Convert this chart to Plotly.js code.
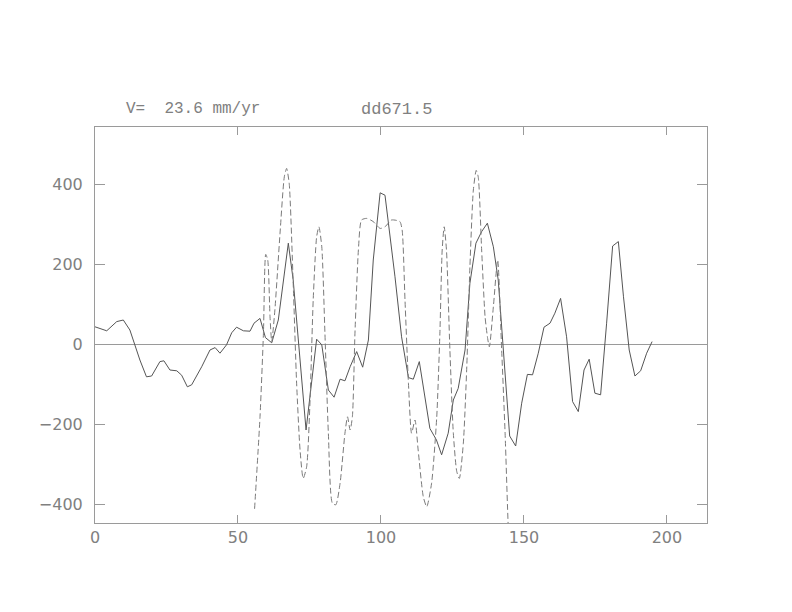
<!DOCTYPE html>
<html>
<head>
<meta charset="utf-8">
<script src="https://cdn.plot.ly/plotly-3.0.1.min.js"></script>
<style>html,body{margin:0;padding:0;background:#fff;}#chart{width:792px;height:612px;}</style>
</head>
<body>
<div id="chart"></div>
<script>
// Observed (solid) profile
const obsX = [0, 4.1, 7.6, 9.9, 12.2, 15.7, 18, 19.8, 22.7, 24.1, 26.2, 28.6, 30.3, 32.3, 33.8, 37.3, 40.2, 42, 43.7, 46, 47.8, 49.5, 51.9, 54.2, 55.6, 57.7, 59.6, 61.8, 64.1, 67.6, 69.3, 73.8, 77.5, 79.3, 81.6, 83.6, 85.7, 87.4, 89.2, 91.5, 93.6, 95.6, 97.3, 99.7, 101.4, 102.6, 104.9, 107.2, 109.6, 111.3, 113.4, 117.1, 119.4, 121.2, 123.5, 125.3, 127, 129.4, 131.1, 133.2, 135.2, 137.2, 139.3, 141, 142.8, 145, 147.1, 149.2, 151.2, 153, 155, 157, 159.1, 160.8, 162.8, 164.9, 167, 169, 171, 172.8, 174.8, 176.8, 178.9, 181, 183, 184.8, 186.8, 188.8, 190.8, 192.9, 194.8];
const obsY = [43, 33, 56, 60, 35, -40, -82, -80, -44, -42, -65, -67, -78, -107, -102, -57, -15, -9, -23, -2, 28, 42, 33, 32, 52, 64, 16, 3, 60, 252, 160, -215, 12, -2, -115, -133, -88, -92, -57, -19, -58, 10, 210, 378, 372, 302, 168, 18, -84, -88, -44, -211, -240, -277, -223, -140, -111, -15, 152, 252, 281, 302, 243, 160, -7, -230, -255, -148, -76, -77, -23, 42, 52, 77, 114, 18, -144, -169, -65, -38, -123, -127, 52, 245, 256, 118, -15, -80, -67, -23, 6];

// Model (dashed) profile
const modX = [55.8, 57.7, 58.9, 59.7, 60.4, 61.2, 61.8, 62.9, 64.7, 66.2, 67, 67.9, 69.3, 70.5, 71.7, 72.8, 74, 75.2, 76.3, 77.5, 78.3, 79.3, 80.4, 81.6, 83, 84.2, 85.7, 87.4, 88.3, 89.2, 90, 90.9, 92.1, 93.2, 95, 97.3, 99.7, 101.4, 103.7, 106.6, 107.4, 108.4, 109.6, 110.7, 111.9, 113, 114.8, 116, 117.7, 119.5, 120.6, 121.4, 122.1, 122.9, 124.1, 125.3, 126.5, 127.4, 128.8, 130, 131.1, 132.3, 133.3, 134, 135.2, 136.4, 137.3, 137.9, 139.3, 140.8, 142.2, 143.4, 144.5, 145.0];
const modY = [-412, -182, 27, 224, 210, 68, 6, 85, 277, 418, 439, 402, 152, -98, -265, -336, -307, -140, 110, 268, 293, 243, 27, -223, -398, -402, -348, -223, -182, -215, -182, 27, 235, 310, 314, 306, 289, 293, 310, 306, 285, 110, -98, -223, -190, -265, -382, -407, -348, -182, 27, 235, 293, 235, -15, -223, -319, -336, -248, -57, 193, 385, 434, 418, 235, 68, 14, -7, 93, 210, -15, -223, -457, -520];

const xTicks = [0, 50, 100, 150, 200];
const yTicks = [-400, -200, 0, 200, 400];
const velocityLabel = "V=  23.6 mm/yr";
const profileLabel = "dd671.5";

const axisGrey = '#9a9a9a';
const textGrey = '#808080';
const fontFam = 'DejaVu Sans, sans-serif';
const monoFam = 'Liberation Mono, DejaVu Sans Mono, monospace';

const traces = [
  {x: obsX, y: obsY, type: 'scatter', mode: 'lines',
   line: {color: '#555555', width: 1}, hoverinfo: 'skip'},
  {x: modX, y: modY, type: 'scatter', mode: 'lines',
   line: {color: '#7a7a7a', width: 1, dash: '6px,3px', shape: 'spline', smoothing: 0.6}, hoverinfo: 'skip'}
];

const layout = {
  width: 792, height: 612,
  margin: {l: 95, r: 85, t: 127, b: 89},
  paper_bgcolor: '#ffffff', plot_bgcolor: '#ffffff',
  showlegend: false,
  font: {family: fontFam, color: textGrey, size: 16},
  xaxis: {
    range: [0, 214], tickvals: xTicks, ticktext: xTicks.map(String),
    ticks: 'inside', ticklen: 8, tickcolor: axisGrey, tickwidth: 1,
    showline: true, linecolor: axisGrey, linewidth: 1, mirror: 'ticks',
    showgrid: false, zeroline: false,
    tickfont: {family: fontFam, size: 16, color: textGrey}
  },
  yaxis: {
    range: [-447.5, 542.5], tickvals: yTicks,
    ticktext: yTicks.map(v => v < 0 ? '\u2212' + Math.abs(v) : String(v)),
    ticks: 'inside', ticklen: 10, tickcolor: axisGrey, tickwidth: 1,
    showline: true, linecolor: axisGrey, linewidth: 1, mirror: 'ticks',
    showgrid: false, zeroline: true, zerolinecolor: axisGrey, zerolinewidth: 1,
    ticklabelstandoff: 8,
    tickfont: {family: fontFam, size: 16, color: textGrey}
  },
  annotations: [
    {text: velocityLabel.replace(/ /g, '&nbsp;'), xref: 'paper', yref: 'paper', x: (124-95)/612, y: 1 + (127-109)/396,
     xanchor: 'left', yanchor: 'middle', showarrow: false,
     font: {family: monoFam, size: 16, color: textGrey}},
    {text: profileLabel, xref: 'paper', yref: 'paper', x: (359-95)/612, y: 1 + (127-109)/396,
     xanchor: 'left', yanchor: 'middle', showarrow: false,
     font: {family: monoFam, size: 17, color: textGrey}}
  ]
};

Plotly.newPlot('chart', traces, layout, {displayModeBar: false, staticPlot: true});
</script>
</body>
</html>
